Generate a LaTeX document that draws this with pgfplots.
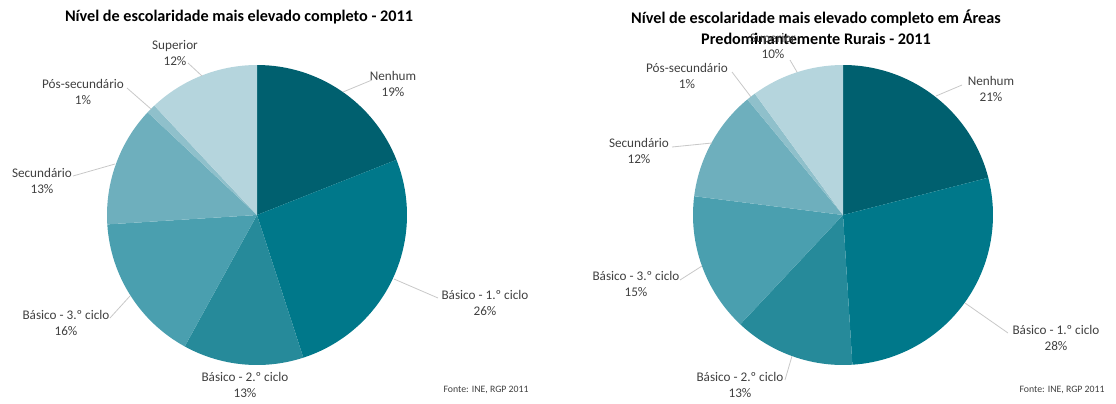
\documentclass[border=0pt]{standalone}
\usepackage{pgfplots}
\pgfplotsset{compat=1.18}
\usepackage{pgfplotstable}
\usepackage{fontspec}
\setmainfont{Carlito}

\definecolor{c0}{HTML}{00606F}
\definecolor{c1}{HTML}{00788A}
\definecolor{c2}{HTML}{268A9A}
\definecolor{c3}{HTML}{4A9FAF}
\definecolor{c4}{HTML}{6EAFBD}
\definecolor{c5}{HTML}{8FC0CB}
\definecolor{c6}{HTML}{B5D5DD}
\definecolor{txt}{HTML}{404040}
\definecolor{lead}{HTML}{C8C8C8}

% percentages, clockwise from 12 o'clock
\pgfplotstableread{
val
19
26
13
16
13
1
12
}\leftdata
\pgfplotstableread{
val
21
28
13
15
12
1
10
}\rightdata
\pgfplotstablecreatecol[create col/expr accum={\pgfmathaccuma+\thisrow{val}}{0}]{cum}{\leftdata}
\pgfplotstablecreatecol[create col/expr accum={\pgfmathaccuma+\thisrow{val}}{0}]{cum}{\rightdata}

% #1 table, #2 #3 centre (axis units, 1 unit = 0.5pt)
\newcommand\drawpie[3]{%
  \pgfplotsinvokeforeach{0,...,6}{%
    \pgfplotstablegetelem{##1}{val}\of#1\pgfmathsetmacro\v{\pgfplotsretval}%
    \pgfplotstablegetelem{##1}{cum}\of#1\pgfmathsetmacro\c{\pgfplotsretval}%
    \pgfmathsetmacro\ea{90-3.6*\c}%
    \pgfmathsetmacro\sa{\ea+3.6*\v}%
    \edef\temp{\noexpand\fill[c##1] (axis cs:#2,#3) -- (axis cs:{#2+150*cos(\sa)},{#3+150*sin(\sa)})
      arc[start angle=\sa, end angle=\ea, radius=75pt] -- cycle;}%
    \temp
  }%
}

\tikzset{lbl/.style={align=center, text=txt, font=\fontsize{6.6}{8}\selectfont, inner sep=0pt},
  ttl/.style={align=center, text=black, font=\fontsize{8.1}{10.5}\selectfont\bfseries, inner sep=0pt},
  src/.style={anchor=east, text=txt, font=\fontsize{4.9}{5.8}\selectfont, inner sep=0pt}}

\begin{document}
\begin{tikzpicture}
\begin{axis}[
  width=558pt, height=201.5pt, scale only axis,
  xmin=0, xmax=1116, ymin=0, ymax=403,
  hide axis, clip=false,
]
% full frame for the page size
\path (axis cs:0,0) rectangle (axis cs:1116,403);

\drawpie{\leftdata}{257}{188}
\drawpie{\rightdata}{843}{188}

% titles
\node[ttl] at (axis cs:239,386) {Nível de escolaridade mais elevado completo - 2011};
\node[ttl] at (axis cs:816,375.5) {Nível de escolaridade mais elevado completo em Áreas\\Predominantemente Rurais - 2011};

% leader lines, left
\draw[lead, thin] (axis cs:188,340) -- (axis cs:202,327);
\draw[lead, thin] (axis cs:372,323) -- (axis cs:343,311);
\draw[lead, thin] (axis cs:127,315) -- (axis cs:151,294);
\draw[lead, thin] (axis cs:73,227) -- (axis cs:115,239);
\draw[lead, thin] (axis cs:110,85) -- (axis cs:130,107);
\draw[lead, thin] (axis cs:438,105) -- (axis cs:394,124);
% leader lines, right
\draw[lead, thin] (axis cs:790,343) -- (axis cs:797,331);
\draw[lead, thin] (axis cs:962,318) -- (axis cs:936,307);
\draw[lead, thin] (axis cs:732,331) -- (axis cs:751,306);
\draw[lead, thin] (axis cs:672,256) -- (axis cs:712,260);
\draw[lead, thin] (axis cs:680,123) -- (axis cs:702,137);
\draw[lead, thin] (axis cs:785,23) -- (axis cs:792,47);
\draw[lead, thin] (axis cs:1008,70) -- (axis cs:965,100);

% labels, left
\node[lbl] at (axis cs:175,350) {Superior\\12\%};
\node[lbl] at (axis cs:393,319) {Nenhum\\19\%};
\node[lbl] at (axis cs:83,311) {Pós-secundário\\1\%};
\node[lbl] at (axis cs:42,222) {Secundário\\13\%};
\node[lbl] at (axis cs:66,80) {Básico - 3.º ciclo\\16\%};
\node[lbl] at (axis cs:245,18) {Básico - 2.º ciclo\\13\%};
\node[lbl] at (axis cs:485,100) {Básico - 1.º ciclo\\26\%};
\node[src] at (axis cs:529,13) {Fonte: INE, RGP 2011};

% labels, right
\node[lbl] at (axis cs:773,356.5) {Superior\\10\%};
\node[lbl] at (axis cs:991,314) {Nenhum\\21\%};
\node[lbl] at (axis cs:687,327) {Pós-secundário\\1\%};
\node[lbl] at (axis cs:639,252) {Secundário\\12\%};
\node[lbl] at (axis cs:636,119) {Básico - 3.º ciclo\\15\%};
\node[lbl] at (axis cs:740,18) {Básico - 2.º ciclo\\13\%};
\node[lbl] at (axis cs:1056,65) {Básico - 1.º ciclo\\28\%};
\node[src] at (axis cs:1105,13) {Fonte: INE, RGP 2011};
\end{axis}
\end{tikzpicture}
\end{document}
